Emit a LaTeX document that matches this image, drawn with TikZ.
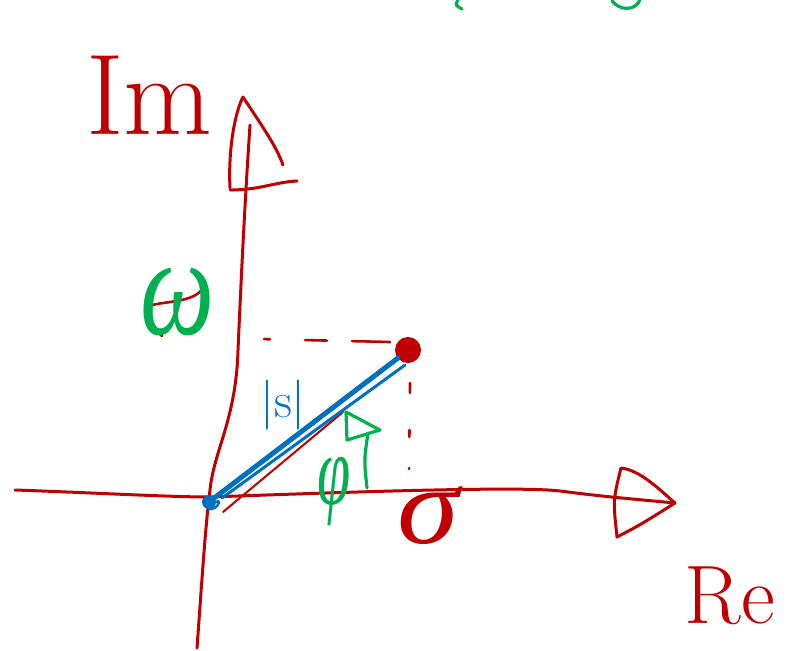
\documentclass[tikz,border=0pt]{standalone}
\usepackage{fontspec}
\newfontfamily\gk{Liberation Serif}
\definecolor{hred}{RGB}{192,0,0}
\definecolor{hgreen}{RGB}{0,176,80}
\definecolor{hblue}{RGB}{0,112,192}
\begin{document}
\begin{tikzpicture}[x=1pt,y=-1pt,line cap=round,line join=round,
  redstroke/.style={draw=hred,line width=3pt},
  greenstroke/.style={draw=hgreen,line width=3.2pt},
  bluestroke/.style={draw=hblue,line width=5pt},
  lbl/.style={inner sep=0pt,outer sep=0pt}]
\useasboundingbox (0,0) rectangle (789,650);
% key points
\coordinate (xstart) at (15,490);
\coordinate (xend) at (675,503);
\coordinate (ystart) at (197,648);
\coordinate (yend) at (250,125);
\coordinate (pIm) at (258,339);
\coordinate (pRe) at (409,475);
% real axis
\draw[redstroke] (xstart) .. controls (100,493) and (170,497) .. (210,497)
  .. controls (350,492) and (520,486) .. (560,491) .. controls (600,496) .. (xend);
\draw[redstroke] (621,468) .. controls (613,500) .. (617,537) .. controls (640,525) .. (xend)
  .. controls (660,490) and (640,470) .. (621,468);
% imaginary axis
\draw[redstroke] (ystart) .. controls (202,580) and (205,530) .. (210,490)
  .. controls (214,450) and (236,420) .. (238,350) .. controls (242,260) and (245,200) .. (yend);
\draw[redstroke] (230,188) .. controls (228,150) and (235,112) .. (243,97)
  .. controls (258,120) and (276,145) .. (283,165);
\draw[redstroke] (230,190) .. controls (260,190) and (275,182) .. (297,181);
% hidden red omega stroke
\draw[draw=hred,line width=2.6pt] (148,306) .. controls (170,300) and (198,303) .. (205,284);
\draw[draw=hred,line width=2.6pt] (148,306) .. controls (150,320) and (155,330) .. (162,336);
% point and origin
\node[circle,fill=hred,minimum size=26pt,inner sep=0pt] (P) at (408,350) {};
\node[circle,fill=hblue,minimum size=14pt,inner sep=0pt] (O) at (209,502) {};
\draw[draw=hblue,line width=2.5pt] (O.east) .. controls (222,498) and (218,510) .. (O.south);
% dashed projections
\draw[draw=hred,line width=2.6pt,dash pattern=on 38pt off 25pt on 22pt off 35pt on 6pt off 20pt]
  (390,342) -- (pIm);
\draw[draw=hred,line width=2.6pt,dash pattern=on 10pt off 37pt on 7pt off 31pt on 1pt off 20pt]
  (410,383) -- (pRe);
% red thin line under vector
\draw[draw=hred,line width=2pt] (223,512) -- (343,412);
% vector |s|
\draw[bluestroke] (O) -- (398,358);
\draw[draw=hblue,line width=3pt] (222,498) -- (405,365);
% angle arrow phi
\draw[greenstroke] (367,488) .. controls (364,460) .. (368,433);
\draw[greenstroke] (346,412) -- (380,430) -- (347,440) -- cycle;
% top cut-off green strokes
\draw[greenstroke] (458,0) .. controls (455,5) .. (462,9);
\draw[greenstroke] (612,1) .. controls (620,11) and (635,11) .. (640,0);
% labels
\node[lbl,text=hred,anchor=base west] (Im) at (86,135) {\fontsize{115}{115}\selectfont Im};
\node[lbl,text=hred] (Re) at (730,596) {\fontsize{83}{83}\selectfont Re};
\node[lbl,text=hgreen] (omega) at (178,302) {\scalebox{1}[1.35]{\fontsize{105}{105}\selectfont\gk\itshape ω}};
\node[lbl,text=hred] (sigma) at (428,516) {\scalebox{1.25}[1.1]{\fontsize{100}{100}\selectfont\gk\itshape σ}};
\node[lbl,text=hgreen] (phi) at (334,492) {\scalebox{0.6}[1]{\fontsize{100}{100}\selectfont\gk\itshape φ}};
\node[lbl,text=hblue] (s) at (283,405) {\fontsize{50}{50}\selectfont |s|};
\end{tikzpicture}
\end{document}
